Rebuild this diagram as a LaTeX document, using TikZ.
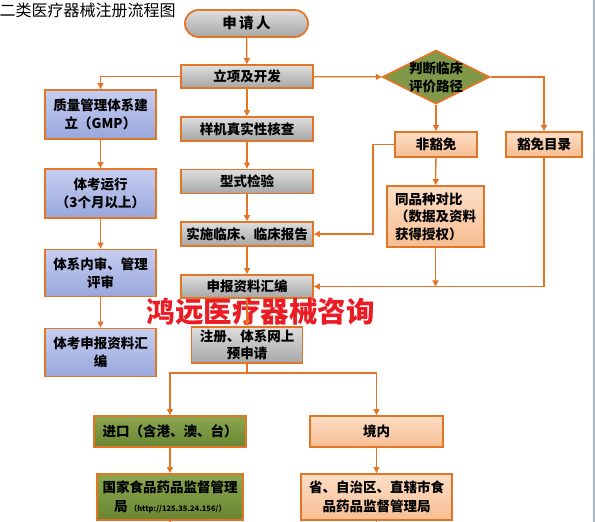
\documentclass[tikz,border=0pt]{standalone}
\usepackage{fontspec}
\setmainfont{Noto Sans CJK SC}
\usetikzlibrary{shapes.geometric,arrows.meta,positioning}

\definecolor{lineorange}{RGB}{226,117,38}
\definecolor{graytop}{RGB}{222,222,222}
\definecolor{graybot}{RGB}{166,166,166}
\definecolor{bluetop}{RGB}{198,206,240}
\definecolor{bluebot}{RGB}{152,166,220}
\definecolor{greentop}{RGB}{138,166,79}
\definecolor{greenbot}{RGB}{106,134,50}
\definecolor{peachtop}{RGB}{252,222,198}
\definecolor{peachbot}{RGB}{247,190,146}
\definecolor{marksred}{RGB}{236,28,36}
\definecolor{edgegray}{RGB}{168,180,200}

\begin{document}
\begin{tikzpicture}[x=1pt, y=1pt, node distance=52.5pt,
    >={Triangle[length=6pt,width=6pt]},
    font=\fontsize{13.5}{18}\selectfont\bfseries]
  \tikzstyle{box} = [rectangle, draw=lineorange, line width=1.8pt, align=center, inner sep=2pt]
  \tikzstyle{graybox} = [box, top color=graytop, bottom color=graybot, minimum width=132pt, minimum height=24pt]
  \tikzstyle{bluebox} = [box, top color=bluetop, bottom color=bluebot, minimum width=111pt, minimum height=48pt]
  \tikzstyle{greenbox} = [box, top color=greentop, bottom color=greenbot]
  \tikzstyle{peachbox} = [box, top color=peachtop, bottom color=peachbot]
  \tikzstyle{conn} = [draw=lineorange, line width=1.3pt]

  \useasboundingbox (0,0) rectangle (595,522);
  \fill[edgegray] (593,0) rectangle (595,522);

  % title and watermark
  \node[anchor=west, inner sep=0, font=\fontsize{16}{18}\selectfont] (title) at (-0.5,511.5) {二类医疗器械注册流程图};

  % main column
  \node[box, top color=graytop, bottom color=graybot, rounded corners=13.5pt, minimum width=123pt, minimum height=27pt, font=\fontsize{14.5}{18}\selectfont\bfseries] (applicant) at (246.5,498.5) {申\,请\,人};
  \node[graybox, minimum height=23pt] (project) at (247,445.5) {立项及开发};
  \node[graybox, below of=project] (sample) {样机真实性核查};
  \node[graybox, below of=sample] (typetest) {型式检验};
  \node[graybox, below of=typetest] (clinic) {实施临床、临床报告};
  \node[graybox, below of=clinic, minimum height=23pt] (dossier) {申报资料汇编};
  \node[graybox, below of=dossier, node distance=58.5pt, minimum width=111pt, minimum height=36pt] (prereg) {注册、体系网上\\[-1pt]预申请};

  % quality system column
  \node[bluebox, minimum height=49pt] (qms) at (100.5,407.5) {质量管理体系建\\立（GMP）};
  \node[bluebox, below of=qms, node distance=79pt, minimum height=49pt] (trial) {体考运行\\（3个月以上）};
  \node[bluebox, below of=trial, node distance=79.5pt, minimum height=47pt] (audit) {体系内审、管理\\评审};
  \node[bluebox, below of=audit, node distance=79.5pt] (qmsdoc) {体考申报资料汇\\编};

  % clinical evaluation path
  \node[diamond, draw=lineorange, line width=1.8pt, fill=greentop!92!black, aspect=2, inner sep=-1.5pt, align=center] (judge) at (436,445) {判断临床\\评价路径};
  \node[peachbox, minimum width=82pt, minimum height=25pt] (nonex) at (436,377.5) {非豁免};
  \node[peachbox, minimum width=76pt, minimum height=25pt] (exlist) at (544,377.5) {豁免目录};
  \node[peachbox, minimum width=97pt, minimum height=61pt, text width=81pt, align=left, font=\fontsize{13.5}{17.5}\selectfont\bfseries] (compare) at (435.5,305.5) {同品种对比\\（数据及资料\\获得授权）};

  \node[font=\fontsize{28.5}{30}\selectfont\bfseries, text=marksred, inner sep=0] (mark) at (260.5,210.5) {鸿远医疗器械咨询};

  % import / domestic
  \node[greenbox, minimum width=152pt, minimum height=31pt] (import) at (170,90.5) {进口（含港、澳、台）};
  \node[peachbox, minimum width=133pt, minimum height=31pt] (domestic) at (376.5,90.5) {境内};
  \node[greenbox, minimum width=146pt, minimum height=46pt] (nmpa) at (170,25) {国家食品药品监督管理\\[1pt]局\,{\fontsize{7.5}{9}\selectfont（http://125.35.24.156/）}};
  \node[peachbox, minimum width=151pt, minimum height=46pt] (provfda) at (376.5,25) {省、自治区、直辖市食\\[1pt]品药品监督管理局};
  \coordinate (bottomedge) at (0,0);

  \draw[conn,->] (applicant) -- (project);
  \draw[conn,->] (project) -- (sample);
  \draw[conn,->] (sample) -- (typetest);
  \draw[conn,->] (typetest) -- (clinic);
  \draw[conn,->] (clinic) -- (dossier);
  \draw[conn,->] (dossier) -- (prereg);

  \draw[conn,->] (project.west) -| (qms);
  \draw[conn,->] (qms) -- (trial);
  \draw[conn,->] (trial) -- (audit);
  \draw[conn,->] (audit) -- (qmsdoc);

  \draw[conn,->] (project) -- (judge);
  \draw[conn,->] (judge) -| (exlist);
  \draw[conn,->] (judge) -- (nonex);
  \draw[conn,->] (nonex) -- (compare);
  \draw[conn,->] (nonex.west) -- ++(-21pt,0) |- (clinic);
  \draw[conn,->] (compare) -- (compare |- dossier.east);
  \draw[conn,->] (exlist) |- (dossier);

  \draw[conn] (prereg) -- ++(0,-28pt) coordinate (split);
  \draw[conn,->] (split) -| (import);
  \draw[conn,->] (split) -| (domestic);
  \draw[conn,->] (import) -- (nmpa);
  \draw[conn,->] (domestic) -- (provfda);
  \draw[conn] (nmpa) -- (nmpa |- bottomedge);
  \draw[conn] (provfda) -- (provfda |- bottomedge);
\end{tikzpicture}
\end{document}
